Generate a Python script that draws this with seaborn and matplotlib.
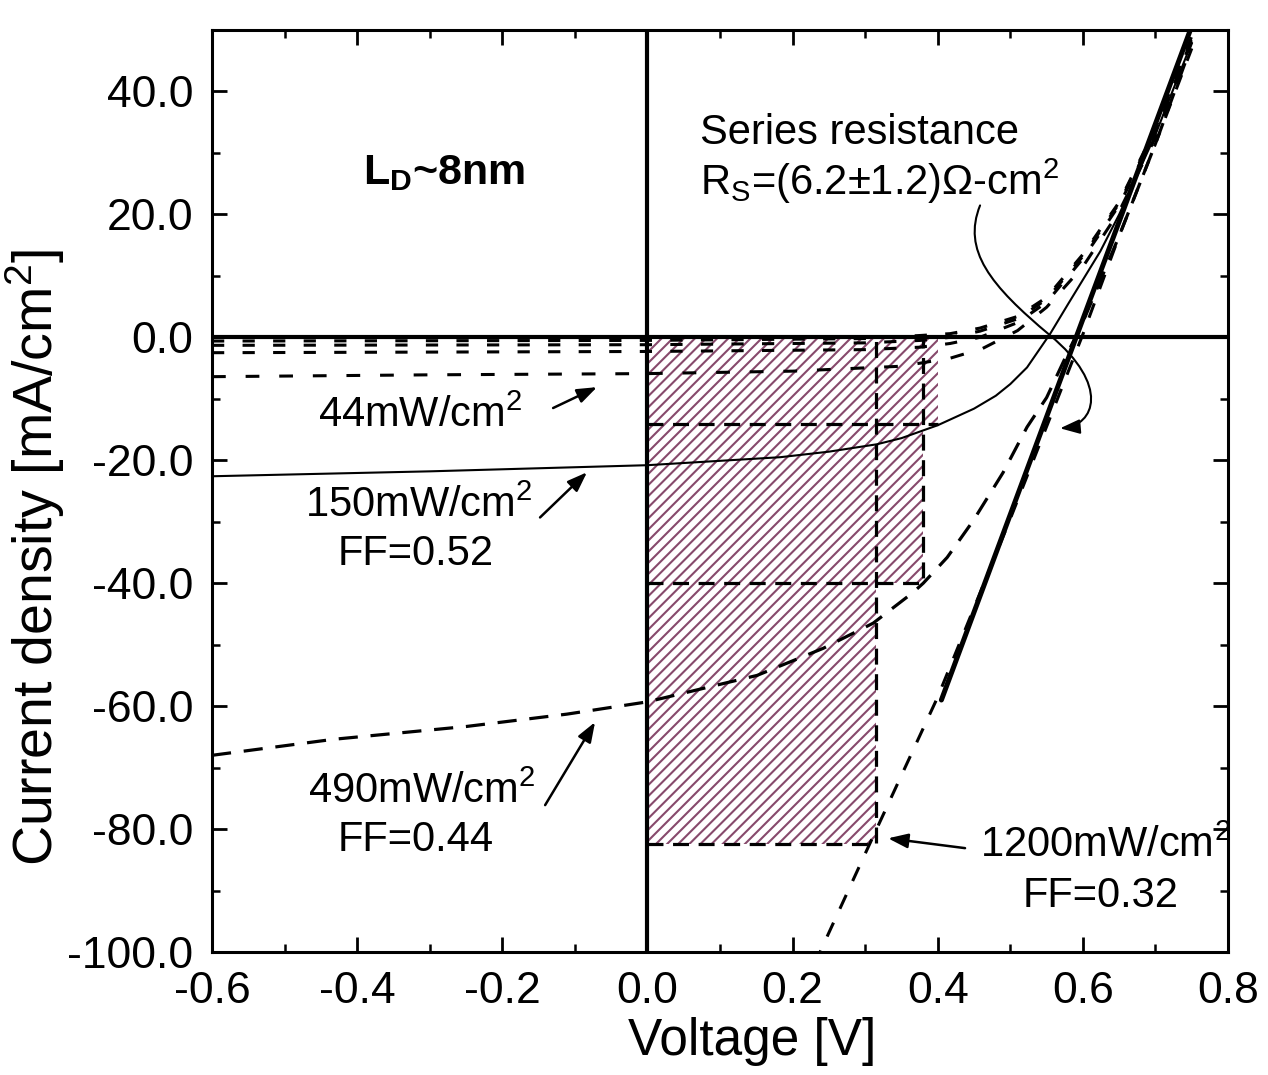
import matplotlib
matplotlib.use("Agg")
import numpy as np
import pandas as pd
import matplotlib.pyplot as plt
import seaborn as sns
from matplotlib.path import Path
from matplotlib.patches import FancyArrowPatch
from matplotlib.ticker import MultipleLocator, FormatStrFormatter

sns.set_theme(style="ticks")
plt.rcParams["font.family"] = ["Liberation Sans", "DejaVu Sans"]
plt.rcParams["mathtext.fontset"] = "custom"
plt.rcParams["mathtext.rm"] = "Liberation Sans"
plt.rcParams["mathtext.it"] = "Liberation Sans:italic"
plt.rcParams["mathtext.bf"] = "Liberation Sans:bold"
plt.rcParams["axes.unicode_minus"] = False
plt.rcParams["hatch.linewidth"] = 1.5
for key in ["text.color", "axes.labelcolor", "xtick.color", "ytick.color",
            "axes.edgecolor"]:
    plt.rcParams[key] = "black"

# ---- J-V curves (V in volts, J in mA/cm^2) ----
v_low = [-0.6, 0.0, 0.3, 0.376, 0.417, 0.458, 0.51, 0.55, 0.6, 0.65, 0.7, 0.75]
j_low_a = [-0.6, -0.5, -0.2, 0.3, 0.6, 1.5, 3.4, 6.5, 13.5, 22.0, 34.0, 49.0]
j_low_b = [-1.3, -1.2, -0.9, -0.5, 0.0, 1.0, 3.0, 6.2, 13.2, 21.8, 33.7, 48.7]
j_low_c = [-2.5, -2.3, -2.0, -1.6, -1.0, 0.0, 2.4, 5.7, 12.8, 21.5, 33.4, 48.5]

v_44 = [-0.6, -0.3, 0.0, 0.2, 0.35, 0.417, 0.462, 0.51, 0.55, 0.6, 0.65, 0.7, 0.75]
j_44 = [-6.4, -6.1, -5.9, -5.5, -4.7, -3.4, -1.8, 1.1, 4.9, 11.5, 20.5, 32.5, 48.0]

v_150 = [-0.6, -0.3, 0.0, 0.183, 0.25, 0.316, 0.35, 0.4, 0.45, 0.48, 0.5, 0.523,
         0.555, 0.58, 0.624, 0.65, 0.7, 0.75]
j_150 = [-22.6, -21.8, -20.8, -19.5, -18.6, -17.4, -16.4, -14.3, -11.6, -9.5,
         -7.6, -4.9, 0.6, 5.5, 14.0, 20.0, 33.0, 48.0]

v_490 = [-0.6, -0.433, -0.249, -0.111, 0.0, 0.151, 0.242, 0.311, 0.366, 0.38,
         0.413, 0.449, 0.49, 0.523, 0.55, 0.575, 0.6, 0.65, 0.7, 0.745]
j_490 = [-68.0, -65.4, -63.3, -61.3, -59.3, -55.0, -50.6, -46.5, -41.5, -40.0,
         -35.8, -29.8, -22.0, -14.6, -9.8, -3.5, 2.5, 16.5, 31.5, 46.0]

v_1200 = [0.23, 0.3, 0.4, 0.5, 0.6, 0.65, 0.7, 0.75]
j_1200 = [-102.0, -84.0, -58.5, -29.5, 0.5, 16.5, 31.5, 47.0]

# series-resistance fit line
v_rs = [0.405, 0.748]
j_rs = [-59.0, 50.0]

# maximum-power points (1200, 490, 150 mW/cm^2)
mpp_v = [0.315, 0.38, 0.40]
mpp_j = [-82.5, -40.0, -14.1]

x_ticks = [-0.6, -0.4, -0.2, 0.0, 0.2, 0.4, 0.6, 0.8]
y_ticks = [-100, -80, -60, -40, -20, 0, 20, 40]

fig = plt.figure(figsize=(12.68, 10.75), dpi=100)
ax = fig.add_axes([0.1672, 0.1144, 0.8013, 0.8577])

# hatched power rectangles
fill_x = [0.0] + mpp_v
fill_y = mpp_j + [mpp_j[-1]]
ax.fill_between(fill_x, 0, fill_y, step="post", facecolor="none",
                edgecolor="#874a6c", linewidth=0, hatch="///", zorder=1)

dash_rect = (0, (5.0, 3.0))
for k, (vm, jm) in enumerate(zip(mpp_v, mpp_j)):
    if k < 2:
        xs, ys = [0.0, vm, vm], [jm, jm, 0.0]
    else:
        xs, ys = [0.0, vm], [jm, jm]
    sns.lineplot(x=xs, y=ys, ax=ax, color="black", linewidth=2.3,
                 linestyle=dash_rect, sort=False, estimator=None, legend=False,
                 zorder=2)

curves = [
    (v_low, j_low_a, (0, (4.0, 6.0)), 2.2),
    (v_low, j_low_b, (0, (4.0, 6.0)), 2.2),
    (v_low, j_low_c, (0, (4.0, 6.0)), 2.2),
    (v_44, j_44, (0, (4.5, 6.5)), 2.2),
    (v_490, j_490, (0, (6.0, 4.0)), 2.3),
    (v_1200, j_1200, (0, (5.0, 5.0)), 2.2),
]
for vx, jy, ls, lw in curves:
    sns.lineplot(x=vx, y=jy, ax=ax, color="black", linewidth=lw, linestyle=ls,
                 sort=False, estimator=None, legend=False, zorder=3)

sns.lineplot(x=v_150, y=j_150, ax=ax, color="black", linewidth=1.5,
             sort=False, estimator=None, legend=False, zorder=3)
sns.lineplot(x=v_rs, y=j_rs, ax=ax, color="black", linewidth=3.6,
             sort=False, estimator=None, legend=False, zorder=3)

ax.axhline(0, color="black", linewidth=3.0, zorder=4)
ax.axvline(0, color="black", linewidth=3.0, zorder=4)

ax.set_xlim(-0.6, 0.8)
ax.set_ylim(-100, 50)
ax.set_xticks(x_ticks)
ax.set_yticks(y_ticks)
ax.xaxis.set_minor_locator(MultipleLocator(0.1))
ax.yaxis.set_minor_locator(MultipleLocator(10))
ax.xaxis.set_major_formatter(FormatStrFormatter("%.1f"))
ax.yaxis.set_major_formatter(FormatStrFormatter("%.1f"))
ax.tick_params(which="both", direction="in", top=True, right=True,
               colors="black")
ax.tick_params(which="major", length=11, width=2.0, labelsize=32, pad=13.5)
ax.tick_params(which="minor", length=6, width=1.8)
for sp in ax.spines.values():
    sp.set_linewidth(2.2)
    sp.set_color("black")

ax.set_xlabel("Voltage [V]", fontsize=37)
ax.set_ylabel("Current density [mA/cm$^\\mathregular{2}$]", fontsize=40)
ax.xaxis.set_label_coords(0.532, -0.0705)
ax.yaxis.set_label_coords(-0.143, 0.428)

fs = 30
ax.text(-0.392, 25.0, r"$\mathbf{L_D}$~8nm", fontsize=31, fontweight="bold",
        ha="left", va="baseline")
ax.text(0.0725, 31.5, "Series resistance", fontsize=fs, ha="left", va="baseline")
ax.text(0.0725, 23.1, "R$_\\mathregular{S}$=(6.2±1.2)Ω-cm$^\\mathregular{2}$",
        fontsize=fs, ha="left", va="baseline")

ax.text(-0.313, -14.6, "44mW/cm$^\\mathregular{2}$", fontsize=fs,
        ha="center", va="baseline")
ax.text(-0.315, -29.3, "150mW/cm$^\\mathregular{2}$", fontsize=fs,
        ha="center", va="baseline")
ax.text(-0.320, -37.1, "FF=0.52", fontsize=fs, ha="center", va="baseline")
ax.text(-0.311, -75.8, "490mW/cm$^\\mathregular{2}$", fontsize=fs,
        ha="center", va="baseline")
ax.text(-0.319, -83.6, "FF=0.44", fontsize=fs, ha="center", va="baseline")
ax.text(0.6305, -84.6, "1200mW/cm$^\\mathregular{2}$", fontsize=fs,
        ha="center", va="baseline")
ax.text(0.624, -92.7, "FF=0.32", fontsize=fs, ha="center", va="baseline")

arrow_kw = dict(arrowstyle="-|>,head_length=0.6,head_width=0.22",
                color="black", lw=1.8, mutation_scale=20,
                shrinkA=0, shrinkB=0)
for head, tail in [((-0.0695, -8.1), (-0.130, -11.5)),
                   ((-0.0833, -21.95), (-0.148, -29.3)),
                   ((-0.0722, -62.6), (-0.141, -76.1)),
                   ((0.3315, -81.5), (0.4376, -83.1))]:
    ax.annotate("", xy=head, xytext=tail, arrowprops=arrow_kw, zorder=5)

# curved pointer from the series-resistance note to the fit line
rs_path = Path(
    [(0.4583, 21.46), (0.4335, 14.15), (0.4721, 8.46), (0.5547, 0.33),
     (0.6374, -7.80), (0.6168, -14.31), (0.5685, -14.80)],
    [Path.MOVETO, Path.CURVE4, Path.CURVE4, Path.CURVE4,
     Path.CURVE4, Path.CURVE4, Path.CURVE4])
ax.add_patch(FancyArrowPatch(path=rs_path,
                             arrowstyle="-|>,head_length=0.6,head_width=0.22",
                             mutation_scale=20, color="black", lw=1.5,
                             zorder=5))

fig.savefig("out.png", dpi=100)
